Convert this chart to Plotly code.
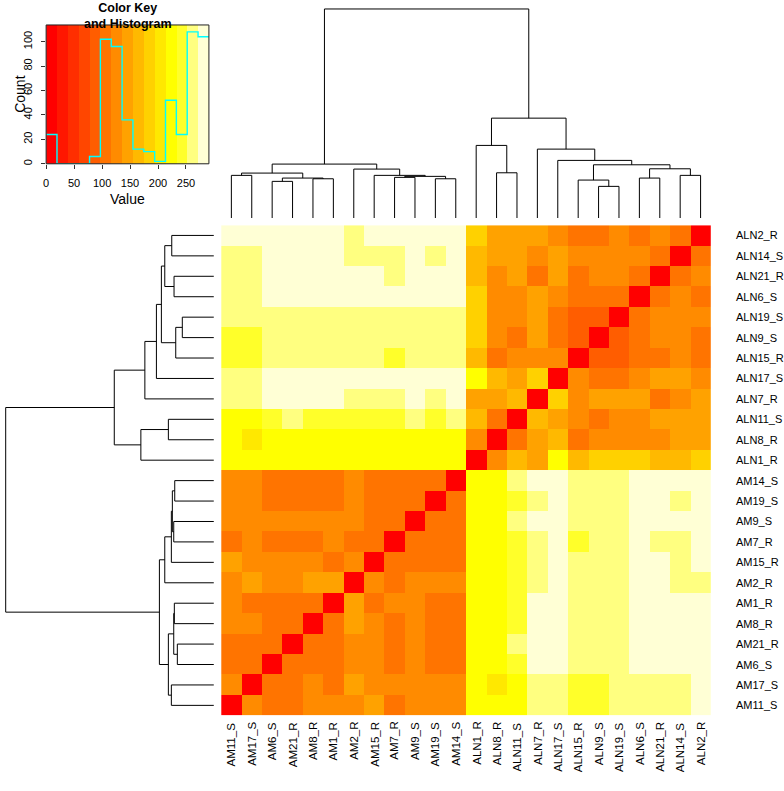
import numpy as np
import plotly.graph_objects as go

# ---------------- data ----------------
labels = ["AM11_S", "AM17_S", "AM6_S", "AM21_R", "AM8_R", "AM1_R", "AM2_R", "AM15_R",
          "AM7_R", "AM9_S", "AM19_S", "AM14_S", "ALN1_R", "ALN8_R", "ALN11_S", "ALN7_R",
          "ALN17_S", "ALN15_R", "ALN9_S", "ALN19_S", "ALN6_S", "ALN21_R", "ALN14_S", "ALN2_R"]

# lower triangle of the symmetric distance matrix: row i lists d(i, j) for j < i
lower = [
    [],
    [124],
    [108, 111],
    [106, 109, 103],
    [121, 119, 110, 105],
    [123, 112, 108, 106, 104],
    [127, 141, 125, 122, 139, 143],
    [146, 128, 124, 126, 120, 113, 127],
    [112, 121, 109, 107, 110, 124, 112, 108],
    [125, 122, 120, 123, 119, 126, 121, 110, 106],
    [127, 124, 113, 111, 108, 112, 129, 107, 105, 102],
    [126, 123, 114, 110, 109, 113, 130, 106, 104, 103, 101],
    [224, 220, 222, 225, 221, 223, 219, 222, 224, 220, 223, 226],
    [222, 205, 224, 226, 223, 221, 225, 222, 220, 224, 222, 225, 128],
    [229, 231, 240, 256, 238, 241, 243, 239, 242, 258, 244, 257, 166, 103],
    [262, 260, 280, 283, 279, 281, 264, 261, 259, 282, 263, 278, 146, 148, 162],
    [265, 263, 284, 286, 282, 285, 280, 283, 281, 284, 282, 279, 225, 168, 150, 186],
    [245, 247, 263, 266, 262, 264, 261, 265, 248, 263, 262, 266, 164, 110, 127, 125, 128],
    [244, 246, 262, 265, 263, 261, 260, 264, 262, 263, 261, 264, 182, 124, 109, 144, 112, 86],
    [262, 264, 266, 268, 265, 263, 262, 266, 260, 265, 263, 267, 185, 126, 122, 147, 108, 84, 90],
    [266, 264, 283, 286, 285, 284, 281, 283, 280, 284, 282, 283, 187, 127, 124, 143, 125, 105, 108, 111],
    [264, 266, 284, 287, 285, 283, 281, 282, 268, 283, 282, 284, 170, 125, 140, 106, 146, 109, 127, 124, 110],
    [263, 265, 280, 284, 283, 282, 266, 264, 262, 281, 265, 280, 168, 148, 145, 126, 142, 123, 125, 128, 121, 104],
    [278, 280, 285, 288, 286, 287, 268, 284, 283, 285, 282, 284, 186, 141, 145, 147, 127, 106, 108, 124, 107, 129, 102],
]

# column dendrogram merges: (child a, child b, height); "#k" refers to merge k
col_tree = [
    ("AM6_S", "AM21_R", 36.7), ("AM8_R", "AM1_R", 39.3), ("#0", "#1", 40.0),
    ("AM11_S", "AM17_S", 42.7), ("#3", "#2", 45.0), ("AM19_S", "AM14_S", 39.3),
    ("AM7_R", "AM9_S", 40.7), ("#6", "#5", 41.7), ("AM15_R", "#7", 42.7),
    ("AM2_R", "#8", 49.0), ("#4", "#9", 54.0), ("ALN8_R", "ALN11_S", 45.3),
    ("ALN1_R", "#11", 72.7), ("ALN9_S", "ALN19_S", 31.7), ("ALN15_R", "#13", 38.0),
    ("ALN6_S", "ALN21_R", 40.0), ("ALN14_S", "ALN2_R", 42.7), ("#15", "#16", 49.3),
    ("#14", "#17", 53.3), ("ALN17_S", "#18", 57.7), ("ALN7_R", "#19", 69.0),
    ("#12", "#20", 100.0), ("#10", "#21", 209.3),
]
# row dendrogram merges
row_tree = [
    ("ALN2_R", "ALN14_S", 42.3), ("ALN21_R", "ALN6_S", 40.0), ("#0", "#1", 49.3),
    ("ALN19_S", "ALN9_S", 31.7), ("#3", "ALN15_R", 38.3), ("#2", "#4", 52.7),
    ("#5", "ALN17_S", 57.7), ("#6", "ALN7_R", 69.3), ("ALN11_S", "ALN8_R", 45.7),
    ("#8", "ALN1_R", 73.3), ("#7", "#9", 100.0), ("AM14_S", "AM19_S", 39.3),
    ("AM9_S", "AM7_R", 40.3), ("#11", "#12", 41.7), ("#13", "AM15_R", 42.7),
    ("#14", "AM2_R", 49.3), ("AM1_R", "AM8_R", 39.7), ("AM21_R", "AM6_S", 36.7),
    ("#16", "#17", 40.3), ("AM17_S", "AM11_S", 42.7), ("#18", "#19", 45.7),
    ("#15", "#20", 54.7), ("#10", "#21", 209.0),
]

key_min, key_max, key_bins = 0, 291, 15
x_ticks = [0, 50, 100, 150, 200, 250]
y_ticks = [0, 20, 40, 60, 80, 100]
heat_cols = ["#FF0000", "#FF1700", "#FF2E00", "#FF4600", "#FF5D00", "#FF7400", "#FF8B00",
             "#FFA200", "#FFB900", "#FFD100", "#FFE800", "#FFFF00", "#FFFF2A", "#FFFF80", "#FFFFD5"]

# ---------------- build ----------------
n = len(labels)
D = np.zeros((n, n))
for i, row in enumerate(lower):
    for j, v in enumerate(row):
        D[i, j] = v
        D[j, i] = v

breaks = np.linspace(key_min, key_max, key_bins + 1)
counts, _ = np.histogram(D.flatten(), bins=breaks)

ncol = len(heat_cols)
cscale = []
for k, c in enumerate(heat_cols):
    cscale.append([k / ncol, c])
    cscale.append([(k + 1) / ncol, c])

idx = {lab: i for i, lab in enumerate(labels)}


def dendro(tree):
    pos = {}
    xs, hs = [], []
    for k, (a, b, h) in enumerate(tree):
        pa = pos[a] if a.startswith("#") else (idx[a], 0.0)
        pb = pos[b] if b.startswith("#") else (idx[b], 0.0)
        xs += [pa[0], pa[0], pb[0], pb[0], None]
        hs += [pa[1], h, h, pb[1], None]
        pos["#%d" % k] = ((pa[0] + pb[0]) / 2.0, h)
    return xs, hs


W, H = 784, 791
def px_x(p): return p / W
def px_y(p): return 1 - p / H

HM_L, HM_R, HM_T, HM_B = 219, 710.5, 225.5, 716.5
FONT = "Liberation Sans, Arial, sans-serif"

fig = go.Figure()
fig.add_trace(go.Heatmap(z=D, x=list(range(n)), y=list(range(n)), colorscale=cscale,
                         zmin=key_min, zmax=key_max, showscale=False, xaxis="x", yaxis="y",
                         hoverinfo="skip"))

cx, ch = dendro(col_tree)
fig.add_trace(go.Scatter(x=cx, y=ch, mode="lines", line=dict(color="#000000", width=1),
                         xaxis="x2", yaxis="y2", hoverinfo="skip"))
rx, rh = dendro(row_tree)
fig.add_trace(go.Scatter(x=rh, y=rx, mode="lines", line=dict(color="#000000", width=1),
                         xaxis="x3", yaxis="y3", hoverinfo="skip"))

# color key
mids = [(breaks[k] + breaks[k + 1]) / 2 for k in range(key_bins)]
ytop = max(counts) / 0.95
fig.add_trace(go.Heatmap(z=[mids], x=list(breaks), y=[0, ytop], colorscale=cscale,
                         zmin=key_min, zmax=key_max, showscale=False, xaxis="x4", yaxis="y4",
                         hoverinfo="skip"))
fig.add_trace(go.Scatter(x=list(breaks), y=list(counts) + [counts[-1]], mode="lines",
                         line=dict(color="#00FFFF", width=1.4, shape="hv"),
                         xaxis="x4", yaxis="y4", hoverinfo="skip"))

hid = dict(visible=False, showgrid=False, zeroline=False, fixedrange=True)
fig.update_layout(
    width=W, height=H, margin=dict(l=0, r=0, t=0, b=0),
    paper_bgcolor="white", plot_bgcolor="rgba(0,0,0,0)", showlegend=False,
    font=dict(family=FONT, color="black"),
    xaxis=dict(domain=[px_x(HM_L), px_x(HM_R)], range=[-0.5, n - 0.5], anchor="y", **hid),
    yaxis=dict(domain=[px_y(HM_B), px_y(HM_T)], range=[-0.5, n - 0.5], anchor="x", **hid),
    xaxis2=dict(domain=[px_x(HM_L), px_x(HM_R)], range=[-0.5, n - 0.5], anchor="y2", **hid),
    yaxis2=dict(domain=[px_y(218.3), px_y(5)], range=[0, 213.3], anchor="x2", **hid),
    xaxis3=dict(domain=[0, px_x(211.7)], range=[211.7, 0], anchor="y3", **hid),
    yaxis3=dict(domain=[px_y(HM_B), px_y(HM_T)], range=[-0.5, n - 0.5], anchor="x3", **hid),
    xaxis4=dict(domain=[px_x(43.3), px_x(206.7)], range=[key_min, key_max], anchor="y4",
                showgrid=False, zeroline=False, fixedrange=True, tickmode="array",
                tickvals=x_ticks, ticks="outside", ticklen=4, tickcolor="#333",
                tickfont=dict(size=11, family=FONT), ticklabelstandoff=5),
    yaxis4=dict(domain=[px_y(164), px_y(25)], range=[0, ytop], anchor="x4",
                showgrid=False, zeroline=False, fixedrange=True, tickmode="array",
                tickvals=y_ticks, ticks="outside", ticklen=4, tickcolor="#333", tickangle=-90,
                tickfont=dict(size=11, family=FONT), ticklabelstandoff=5),
)

fig.add_shape(type="rect", xref="x4 domain", yref="y4 domain", x0=0, x1=1, y0=0, y1=1,
              line=dict(color="#222", width=1))

ann = []
for i, lab in enumerate(labels):
    ann.append(dict(x=px_x(734), xref="paper", y=i, yref="y", text=lab, showarrow=False,
                    xanchor="left", yanchor="middle", font=dict(size=11, family=FONT)))
    ann.append(dict(x=i, xref="x", y=px_y(721), yref="paper", text=lab, showarrow=False,
                    textangle=-90, xanchor="center", yanchor="top", font=dict(size=11.5, family=FONT)))
ann.append(dict(x=px_x(125), y=px_y(-1), xref="paper", yref="paper", showarrow=False,
                text="<b>Color Key</b><br><b>and Histogram</b>", xanchor="center", yanchor="top",
                font=dict(size=12.5, family=FONT)))
ann.append(dict(x=px_x(125), y=px_y(199), xref="paper", yref="paper", showarrow=False,
                text="Value", xanchor="center", yanchor="middle", font=dict(size=14, family=FONT)))
ann.append(dict(x=px_x(17), y=px_y(94), xref="paper", yref="paper", showarrow=False,
                text="Count", textangle=-90, xanchor="center", yanchor="middle",
                font=dict(size=14, family=FONT)))
fig.update_layout(annotations=ann)

fig.write_html("out.html", config={"displayModeBar": False, "staticPlot": True},
               post_script="document.body.style.margin='0px';"
                           "document.body.style.overflow='hidden';"
                           "document.documentElement.style.overflow='hidden';")
